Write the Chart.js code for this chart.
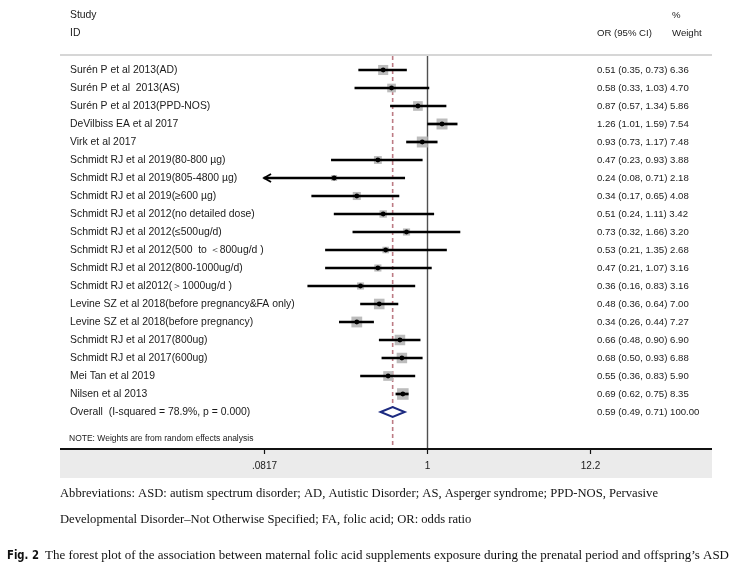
<!DOCTYPE html>
<html lang="en">
<head>
<meta charset="UTF-8">
<title>Forest plot - folic acid and ASD</title>
<script src="https://cdn.jsdelivr.net/npm/chart.js"></script>
<style>
  body { margin: 0; background: #fff; overflow: hidden; }
  #wrap { position: relative; width: 745px; height: 579px; }
</style>
</head>
<body>
<div id="wrap"><canvas id="forest" width="745" height="579"></canvas></div>
<script>
// study rows, top to bottom
const studies = [
  'Surén P et al 2013(AD)',
  'Surén P et al  2013(AS)',
  'Surén P et al 2013(PPD-NOS)',
  'DeVilbiss EA et al 2017',
  'Virk et al 2017',
  'Schmidt RJ et al 2019(80-800 µg)',
  'Schmidt RJ et al 2019(805-4800 µg)',
  'Schmidt RJ et al 2019(≥600 µg)',
  'Schmidt RJ et al 2012(no detailed dose)',
  'Schmidt RJ et al 2012(≤500ug/d)',
  'Schmidt RJ et al 2012(500  to ＜800ug/d )',
  'Schmidt RJ et al 2012(800-1000ug/d)',
  'Schmidt RJ et al2012(＞1000ug/d )',
  'Levine SZ et al 2018(before pregnancy&FA only)',
  'Levine SZ et al 2018(before pregnancy)',
  'Schmidt RJ et al 2017(800ug)',
  'Schmidt RJ et al 2017(600ug)',
  'Mei Tan et al 2019',
  'Nilsen et al 2013'
];
const oddsRatio = [0.51, 0.58, 0.87, 1.26, 0.93, 0.47, 0.24, 0.34, 0.51, 0.73, 0.53, 0.47, 0.36, 0.48, 0.34, 0.66, 0.68, 0.55, 0.69];
const lowerCI   = [0.35, 0.33, 0.57, 1.01, 0.73, 0.23, 0.08, 0.17, 0.24, 0.32, 0.21, 0.21, 0.16, 0.36, 0.26, 0.48, 0.50, 0.36, 0.62];
const upperCI   = [0.73, 1.03, 1.34, 1.59, 1.17, 0.93, 0.71, 0.65, 1.11, 1.66, 1.35, 1.07, 0.83, 0.64, 0.44, 0.90, 0.93, 0.83, 0.75];
const weights   = [6.36, 4.70, 5.86, 7.54, 7.48, 3.88, 2.18, 4.08, 3.42, 3.20, 2.68, 3.16, 3.16, 7.00, 7.27, 6.90, 6.88, 5.90, 8.35];

const overallLabel = 'Overall  (I-squared = 78.9%, p = 0.000)';
const overallOR = [0.59, 0.49, 0.71];
const overallWeight = 100;

const xTicks = [0.0817, 1, 12.2];
const xTickLabels = ['.0817', '1', '12.2'];

const TEXT = '#1a1a1a';
const SANS = '"Liberation Sans", Arial, sans-serif';
const SERIF = '"Liberation Serif", "Times New Roman", serif';

function fmt(v) { return v.toFixed(2); }

const forestDecor = {
  id: 'forestDecor',
  beforeDraw(chart) {
    const { ctx, chartArea: a } = chart;
    ctx.save();
    ctx.fillStyle = '#fff';
    ctx.fillRect(0, 0, chart.width, chart.height);
    // grey band under the axis
    ctx.fillStyle = '#ebebeb';
    ctx.fillRect(a.left, a.bottom, a.right - a.left, 29);
    // header rule
    ctx.strokeStyle = '#c8c8c8';
    ctx.lineWidth = 1.5;
    ctx.beginPath();
    ctx.moveTo(a.left, a.top);
    ctx.lineTo(a.right, a.top);
    ctx.stroke();
    ctx.restore();
  },
  beforeDatasetsDraw(chart) {
    const { ctx, chartArea: a, scales: { x } } = chart;
    ctx.save();
    // no-effect line
    ctx.strokeStyle = '#505050';
    ctx.lineWidth = 1.4;
    ctx.beginPath();
    ctx.moveTo(Math.round(x.getPixelForValue(1)) + 0.5, a.top + 1);
    ctx.lineTo(Math.round(x.getPixelForValue(1)) + 0.5, a.bottom);
    ctx.stroke();
    // pooled estimate line
    ctx.strokeStyle = '#bd7b84';
    ctx.lineWidth = 1.6;
    ctx.setLineDash([4, 3]);
    const px = x.getPixelForValue(overallOR[0]);
    ctx.beginPath();
    ctx.moveTo(px, a.top + 1);
    ctx.lineTo(px, a.bottom);
    ctx.stroke();
    ctx.restore();
  },
  afterDatasetsDraw(chart) {
    const { ctx, scales: { x, y } } = chart;
    ctx.save();
    // arrows for intervals cut at the axis minimum
    ctx.strokeStyle = '#000';
    ctx.lineWidth = 1.8;
    lowerCI.forEach((lo, i) => {
      if (lo < xTicks[0]) {
        const ax = x.getPixelForValue(xTicks[0]);
        const ay = y.getPixelForValue(i);
        ctx.beginPath();
        ctx.moveTo(ax + 7, ay - 4);
        ctx.lineTo(ax, ay);
        ctx.lineTo(ax + 7, ay + 4);
        ctx.stroke();
      }
    });
    // overall diamond
    const dy = y.getPixelForValue(studies.length);
    const cx = x.getPixelForValue(overallOR[0]);
    const lx = x.getPixelForValue(overallOR[1]);
    const rx = x.getPixelForValue(overallOR[2]);
    ctx.beginPath();
    ctx.moveTo(lx, dy);
    ctx.lineTo(cx, dy - 5);
    ctx.lineTo(rx, dy);
    ctx.lineTo(cx, dy + 5);
    ctx.closePath();
    ctx.fillStyle = '#fff';
    ctx.fill();
    ctx.strokeStyle = '#1c2a80';
    ctx.lineWidth = 2;
    ctx.stroke();
    ctx.restore();
  },
  afterDraw(chart) {
    const { ctx, chartArea: a, scales: { x, y } } = chart;
    ctx.save();
    ctx.fillStyle = TEXT;
    ctx.textBaseline = 'middle';

    // headers
    ctx.font = '10.4px ' + SANS;
    ctx.fillText('Study', 70, 15);
    ctx.fillText('ID', 70, 33);
    ctx.font = '9.6px ' + SANS;
    ctx.fillText('%', 672, 15);
    ctx.fillText('OR (95% CI)', 597, 33);
    ctx.fillText('Weight', 672, 33);

    // rows
    studies.forEach((s, i) => {
      const py = y.getPixelForValue(i);
      ctx.font = '10.4px ' + SANS;
      ctx.fillText(s, 70, py);
      ctx.font = '9.6px ' + SANS;
      ctx.fillText(fmt(oddsRatio[i]) + ' (' + fmt(lowerCI[i]) + ', ' + fmt(upperCI[i]) + ') ' + fmt(weights[i]), 597, py);
    });
    const oy = y.getPixelForValue(studies.length);
    ctx.font = '10.4px ' + SANS;
    ctx.fillText(overallLabel, 70, oy);
    ctx.font = '9.6px ' + SANS;
    ctx.fillText(fmt(overallOR[0]) + ' (' + fmt(overallOR[1]) + ', ' + fmt(overallOR[2]) + ') ' + fmt(overallWeight), 597, oy);

    ctx.font = '8.5px ' + SANS;
    ctx.fillText('NOTE: Weights are from random effects analysis', 69, 439, 191);

    // axis
    ctx.strokeStyle = '#111';
    ctx.lineWidth = 1.8;
    ctx.beginPath();
    ctx.moveTo(a.left, a.bottom);
    ctx.lineTo(a.right, a.bottom);
    ctx.stroke();
    ctx.lineWidth = 1.2;
    ctx.font = '10px ' + SANS;
    ctx.textAlign = 'center';
    xTicks.forEach((t, i) => {
      const tx = Math.round(x.getPixelForValue(t)) + 0.5;
      ctx.beginPath();
      ctx.moveTo(tx, a.bottom);
      ctx.lineTo(tx, a.bottom + 5);
      ctx.stroke();
      ctx.fillText(xTickLabels[i], tx, a.bottom + 17);
    });

    // caption
    ctx.textAlign = 'left';
    ctx.fillStyle = '#111';
    ctx.font = '13px ' + SERIF;
    const line1 = 'Abbreviations: ASD: autism spectrum disorder; AD, Autistic Disorder; AS, Asperger syndrome; PPD-NOS, Pervasive';
    const line2 = 'Developmental Disorder\u2013Not Otherwise Specified; FA, folic acid; OR: odds ratio';
    const sx = Math.min(1, 598 / ctx.measureText(line1).width);
    ctx.save();
    ctx.translate(60, 0);
    ctx.scale(sx, 1);
    ctx.fillText(line1, 0, 494);
    ctx.fillText(line2, 0, 520);
    ctx.restore();

    ctx.font = 'bold 12.5px "Liberation Sans Narrow", "DejaVu Sans Condensed", ' + SANS;
    ctx.fillText('Fig. 2', 7, 556, 32);
    ctx.font = '13px ' + SERIF;
    ctx.fillText('The forest plot of the association between maternal folic acid supplements exposure during the prenatal period and offspring\u2019s ASD', 45, 556, 684);
    ctx.restore();
  }
};

const rows = studies.map((s, i) => i);

new Chart(document.getElementById('forest'), {
  type: 'bar',
  data: {
    datasets: [
      {
        type: 'scatter',
        label: 'weight box',
        data: rows.map(i => ({ x: oddsRatio[i], y: i })),
        pointStyle: 'rect',
        pointRadius: c => 4 * Math.sqrt(weights[c.dataIndex]) / Math.SQRT2,
        pointBackgroundColor: '#bcbcbc',
        pointBorderWidth: 0,
        order: 3
      },
      {
        type: 'bar',
        label: '95% CI',
        indexAxis: 'y',
        data: rows.map(i => ({ x: [Math.max(lowerCI[i], xTicks[0]), upperCI[i]], y: i })),
        backgroundColor: '#000',
        borderWidth: 0,
        barThickness: 2,
        order: 2
      },
      {
        type: 'scatter',
        label: 'OR',
        data: rows.map(i => ({ x: oddsRatio[i], y: i })),
        pointStyle: 'circle',
        pointRadius: 2.4,
        pointBackgroundColor: '#000',
        pointBorderWidth: 0,
        order: 1
      }
    ]
  },
  options: {
    responsive: false,
    animation: false,
    events: [],
    layout: { padding: { left: 60, right: 33, top: 55, bottom: 130 } },
    scales: {
      x: { type: 'logarithmic', min: 0.00355, max: 79.9, offset: false, display: false },
      y: { type: 'linear', min: -0.833, max: 21.056, reverse: true, offset: false, display: false }
    },
    plugins: {
      legend: { display: false },
      tooltip: { enabled: false }
    }
  },
  plugins: [forestDecor]
});
</script>
</body>
</html>
